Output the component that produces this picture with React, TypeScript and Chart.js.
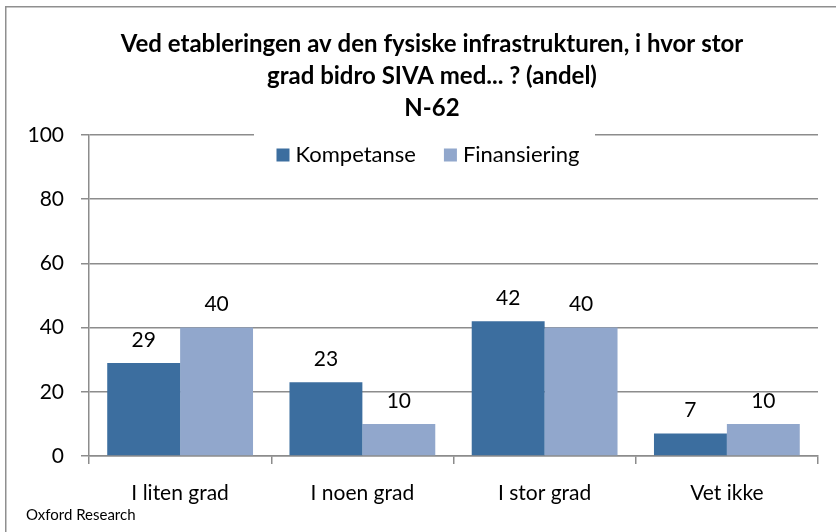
import React, { useEffect, useRef } from "react";
import { Chart, registerables } from "chart.js";

Chart.register(...registerables);

const categories = ["I liten grad", "I noen grad", "I stor grad", "Vet ikke"];
const kompetanse = [29, 23, 42, 7];
const finansiering = [40, 10, 40, 10];
const seriesNames = ["Kompetanse", "Finansiering"];
const titleLines = [
  "Ved etableringen av den fysiske infrastrukturen, i hvor stor",
  "grad bidro SIVA med... ? (andel)",
  "N-62",
];
const sourceText = "Oxford Research";

const DARK = "#3c6e9f";
const LIGHT = "#91a7cc";
const GRID = "#8c8c8c";
const FONT = "Lato, 'Liberation Sans', sans-serif";

const W = 836;
const H = 532;

export default function App() {
  const ref = useRef<HTMLCanvasElement | null>(null);

  useEffect(() => {
    const canvas = ref.current;
    if (!canvas) return;

    const decorPlugin = {
      id: "decor",
      afterDatasetsDraw(chart: any) {
        const ctx = chart.ctx;
        ctx.save();
        ctx.font = `21px ${FONT}`;
        ctx.fillStyle = "#000";
        ctx.textAlign = "center";
        ctx.textBaseline = "middle";
        chart.data.datasets.forEach((ds: any, di: number) => {
          const meta = chart.getDatasetMeta(di);
          meta.data.forEach((el: any, i: number) => {
            ctx.fillText(String(ds.data[i]), el.x, el.y - 23);
          });
        });
        ctx.restore();
      },
      afterDraw(chart: any) {
        const ctx = chart.ctx;
        ctx.save();
        // outer border
        ctx.strokeStyle = "#8f8f8f";
        ctx.lineWidth = 1.5;
        ctx.strokeRect(5.75, 6.75, 900, 600);

        // title
        ctx.fillStyle = "#000";
        ctx.font = `bold 24px ${FONT}`;
        ctx.textAlign = "center";
        ctx.textBaseline = "middle";
        titleLines.forEach((t, i) => ctx.fillText(t, 432, 44 + i * 32));

        // legend
        const ca = chart.chartArea;
        ctx.fillStyle = "#fff";
        ctx.fillRect(254, ca.top - 6, 341, 50);
        ctx.font = `22px ${FONT}`;
        const box = 13;
        const gapBox = 6;
        const gapItem = 28;
        const widths = seriesNames.map((n) => ctx.measureText(n).width);
        const total = widths.reduce((a, w) => a + box + gapBox + w, 0) + gapItem * (seriesNames.length - 1);
        let x = 428 - total / 2;
        const cy = 155;
        const colors = [DARK, LIGHT];
        ctx.textAlign = "left";
        seriesNames.forEach((n, i) => {
          ctx.fillStyle = colors[i];
          ctx.fillRect(x, cy - box / 2, box, box);
          x += box + gapBox;
          ctx.fillStyle = "#000";
          ctx.fillText(n, x, cy);
          x += widths[i] + gapItem;
        });

        // source
        ctx.font = `15px ${FONT}`;
        ctx.fillStyle = "#000";
        ctx.textAlign = "left";
        ctx.fillText(sourceText, 26, 515);
        ctx.restore();
      },
    };

    const chart = new Chart(canvas, {
      type: "bar",
      data: {
        labels: categories,
        datasets: [
          { label: seriesNames[0], data: kompetanse, backgroundColor: DARK, borderWidth: 0 },
          { label: seriesNames[1], data: finansiering, backgroundColor: LIGHT, borderWidth: 0 },
        ],
      },
      options: {
        animation: false,
        responsive: false,
        maintainAspectRatio: false,
        layout: { padding: { top: 135, right: 18, bottom: 0, left: 0 } },
        plugins: {
          legend: { display: false },
          title: { display: false },
          tooltip: { enabled: false },
        },
        datasets: { bar: { categoryPercentage: 0.8, barPercentage: 1.0 } },
        scales: {
          x: {
            grid: { drawOnChartArea: false, drawTicks: true, tickLength: 8, color: GRID, lineWidth: 1.5, offset: true },
            border: { color: GRID, width: 1.5 },
            ticks: { color: "#000", font: { family: FONT, size: 21 }, padding: 17 },
            afterFit: (scale: any) => {
              scale.height = 76;
            },
          },
          y: {
            min: 0,
            max: 100,
            ticks: { stepSize: 20, color: "#000", font: { family: FONT, size: 21 }, padding: 17 },
            grid: { color: GRID, lineWidth: 1.5, tickLength: 8 },
            border: { color: GRID, width: 1.5 },
            afterFit: (scale: any) => {
              scale.width = 89;
            },
          },
        },
      },
      plugins: [decorPlugin],
    });

    return () => chart.destroy();
  }, []);

  return (
    <div style={{ position: "absolute", left: 0, top: 0, width: W, height: H, overflow: "hidden", background: "#fff" }}>
      <canvas ref={ref} width={W} height={H} style={{ display: "block", width: W, height: H }} />
    </div>
  );
}
